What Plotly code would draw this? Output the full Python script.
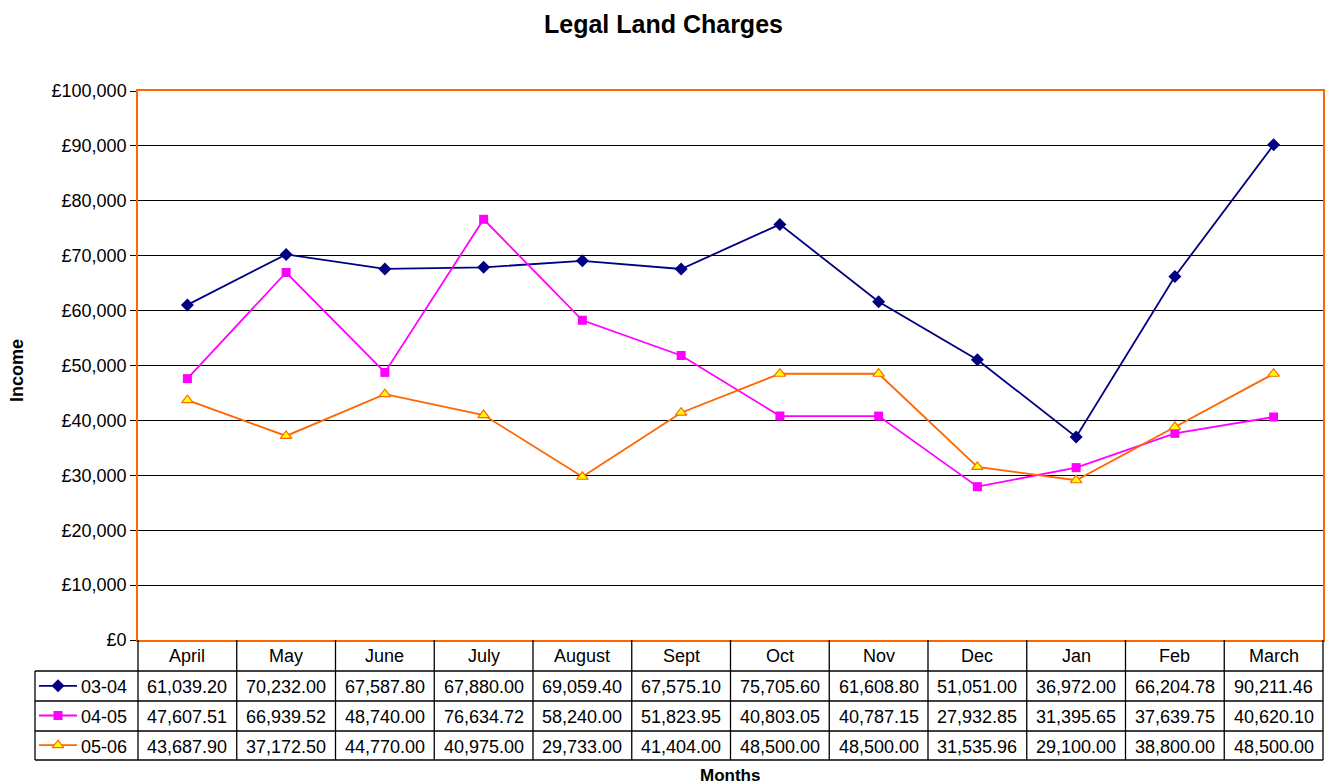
import plotly.graph_objects as go

months = ["April", "May", "June", "July", "August", "Sept", "Oct", "Nov", "Dec", "Jan", "Feb", "March"]
series_names = ["03-04", "04-05", "05-06"]
s0304 = [61039.20, 70232.00, 67587.80, 67880.00, 69059.40, 67575.10, 75705.60, 61608.80, 51051.00, 36972.00, 66204.78, 90211.46]
s0405 = [47607.51, 66939.52, 48740.00, 76634.72, 58240.00, 51823.95, 40803.05, 40787.15, 27932.85, 31395.65, 37639.75, 40620.10]
s0506 = [43687.90, 37172.50, 44770.00, 40975.00, 29733.00, 41404.00, 48500.00, 48500.00, 31535.96, 29100.00, 38800.00, 48500.00]
y_ticks = [0, 10000, 20000, 30000, 40000, 50000, 60000, 70000, 80000, 90000, 100000]

W, H = 1330, 784
L, R, T, B = 138, 1323, 91, 640
FONT = "Liberation Sans, Arial, sans-serif"
FS = 18

styles = [
    dict(color="#000080", marker=dict(symbol="diamond", size=10, color="#000080", line=dict(width=0))),
    dict(color="#FF00FF", marker=dict(symbol="square", size=9, color="#FF00FF", line=dict(width=0))),
    dict(color="#FF6600", marker=dict(symbol="triangle-up", size=10, color="#FFFF00", line=dict(width=1.2, color="#FF6600"))),
]
data = [s0304, s0405, s0506]

def px(x):
    return x / W

def py(y):
    return 1 - y / H

def ann(x, y, text, size=FS, xanchor="center", **kw):
    return dict(x=px(x), y=py(y), xref="paper", yref="paper", text=text, showarrow=False,
                xanchor=xanchor, yanchor="middle", font=dict(size=size, color="black", family=FONT), **kw)

fig = go.Figure()
for name, vals, st in zip(series_names, data, styles):
    fig.add_trace(go.Scatter(x=list(range(len(months))), y=vals, name=name, mode="lines+markers",
                             line=dict(color=st["color"], width=1.8), marker=st["marker"],
                             showlegend=False, cliponaxis=False))

# table geometry
colw = (R - L) / 12
row_edges = [640, 671, 701, 731, 760]
shapes = []
line_c = "#000000"
for ye in row_edges[1:]:
    shapes.append(dict(type="line", xref="paper", yref="paper", x0=px(35), x1=px(R), y0=py(ye), y1=py(ye),
                       line=dict(color=line_c, width=1.3)))
for k in range(13):
    xv = L + k * colw
    shapes.append(dict(type="line", xref="paper", yref="paper", x0=px(xv), x1=px(xv), y0=py(640), y1=py(760),
                       line=dict(color=line_c, width=1.3)))
shapes.append(dict(type="line", xref="paper", yref="paper", x0=px(35), x1=px(35), y0=py(671), y1=py(760),
                   line=dict(color=line_c, width=1.3)))

annotations = []
for k, m in enumerate(months):
    annotations.append(ann(L + (k + 0.5) * colw, 656, m))
for r, (name, vals) in enumerate(zip(series_names, data)):
    yc = (row_edges[r + 1] + row_edges[r + 2]) / 2 + 1
    for k, v in enumerate(vals):
        annotations.append(ann(L + (k + 0.5) * colw, yc, f"{v:,.2f}"))
    annotations.append(ann(79, yc, name, xanchor="left"))

# legend keys inside the table via second axes
kx0, kx1 = 39, 77
for r, st in enumerate(styles):
    fig.add_trace(go.Scatter(x=[0, 1, 2], y=[r, r, r], mode="lines", line=dict(color=st["color"], width=1.8),
                             xaxis="x2", yaxis="y2", showlegend=False, hoverinfo="skip"))
    fig.add_trace(go.Scatter(x=[1], y=[r], mode="markers", marker=st["marker"],
                             xaxis="x2", yaxis="y2", showlegend=False, hoverinfo="skip"))

annotations.append(ann(663, 24, "<b>Legal Land Charges</b>", size=25))
annotations.append(ann(730, 775, "<b>Months</b>", size=17))
annotations.append(ann(17, 371, "<b>Income</b>", size=18, textangle=-90))

fig.update_layout(
    width=W, height=H,
    margin=dict(l=0, r=0, t=0, b=0),
    paper_bgcolor="white", plot_bgcolor="white",
    font=dict(family=FONT, size=FS, color="black"),
    xaxis=dict(domain=[px(L), px(R)], range=[-0.5, 11.5], showticklabels=False, showgrid=False, zeroline=False,
               showline=True, linecolor="#FF6600", linewidth=1.5, mirror=True, ticks="", anchor="y"),
    yaxis=dict(domain=[py(B), py(T)], range=[0, 100000], tickvals=y_ticks,
               ticktext=[f"£{v:,}" for v in y_ticks], automargin=False,
               showgrid=True, gridcolor="black", gridwidth=1, zeroline=False,
               showline=True, linecolor="#FF6600", linewidth=1.5, mirror=True,
               ticks="outside", ticklen=6, tickcolor="black", tickfont=dict(size=FS, family=FONT), anchor="x"),
    xaxis2=dict(domain=[px(kx0), px(kx1)], range=[0, 2], visible=False, anchor="y2"),
    yaxis2=dict(domain=[py(760), py(671)], range=[2.5, -0.5], visible=False, anchor="x2"),
    shapes=shapes,
    annotations=annotations,
)

fig.write_html("out.html", config={"displayModeBar": False},
               post_script="document.body.style.margin='0';document.body.style.padding='0';")
